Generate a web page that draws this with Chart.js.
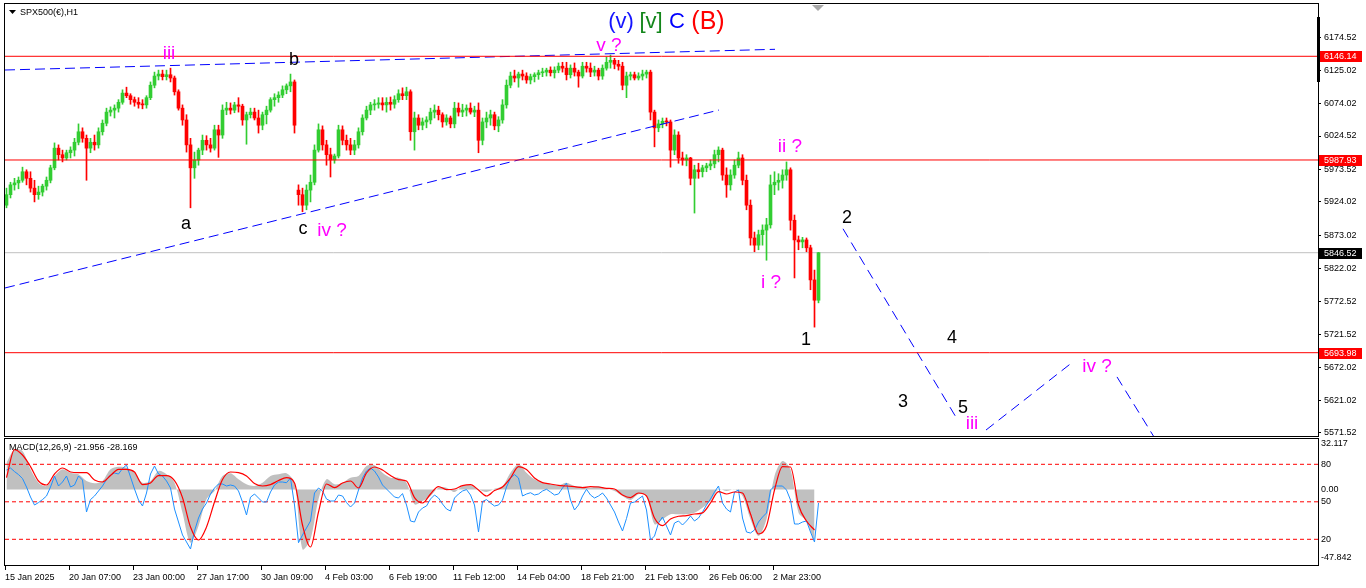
<!DOCTYPE html>
<html><head><meta charset="utf-8">
<script src="https://cdn.jsdelivr.net/npm/chart.js@4.4.1/dist/chart.umd.min.js"></script>
<style>
html,body{margin:0;padding:0;background:#fff;overflow:hidden;}
#wrap{position:relative;width:1366px;height:588px;background:#fff;}
canvas{position:absolute;left:0;}
</style></head><body>
<div id="wrap">
<canvas id="main" width="1366" height="438" style="top:0;width:1366px;height:438px"></canvas>
<canvas id="osc" width="1366" height="150" style="top:438px;width:1366px;height:150px"></canvas>
</div>
<script>
// ---------- DATA (4-hour candles, 15 Jan – 4 Mar 2025) ----------
const symbolTitle = 'SPX500(€),H1';
const hoursPerCandle = 4;
const opens = [
5919,5935,5950,5953,5957,5970,5960,5945,5935,5939,
5948,5957,5976,6006,5996,5991,5999,6003,6015,6031,
6021,6006,6015,6011,6031,6044,6061,6064,6067,6076,
6090,6086,6080,6076,6073,6072,6083,6102,6116,6119,
6115,6118,6113,6092,6067,6049,6011,5976,5988,6003,
6018,6011,6006,6034,6026,6064,6067,6064,6072,6070,
6049,6057,6061,6052,6041,6057,6064,6080,6083,6087,
6095,6101,6107,5942,5935,5919,5942,5954,6003,6034,
6011,5996,5988,5994,6034,6018,6011,6003,6011,6031,
6052,6064,6072,6073,6075,6072,6076,6073,6080,6089,
6086,6092,6031,6052,6041,6046,6049,6061,6064,6057,
6046,6052,6043,6067,6061,6064,6067,6061,6064,6018,
6046,6052,6057,6040,6049,6072,6102,6116,6113,6119,
6116,6110,6115,6118,6121,6122,6125,6121,6125,6131,
6128,6118,6128,6122,6116,6131,6128,6122,6125,6116,
6128,6137,6140,6134,6131,6102,6116,6118,6113,6116,
6119,6122,6061,6037,6043,6047,6046,6003,6026,5991,
5988,5991,5960,5973,5970,5976,5979,5982,5996,6003,
5965,5950,5965,5980,5991,5957,5919,5869,5858,5874,
5881,5889,5950,5954,5957,5965,5973,5896,5866,5863,
5866,5854,5805,5774];
const highs = [
5945,5954,5960,5962,5977,5973,5970,5957,5948,5951,
5962,5980,6014,6011,6003,6003,6008,6021,6043,6037,
6026,6021,6026,6037,6049,6067,6069,6072,6080,6095,
6099,6089,6084,6083,6080,6086,6107,6122,6125,6125,
6125,6128,6116,6095,6072,6057,6021,6000,6006,6026,
6025,6021,6041,6041,6072,6076,6075,6076,6083,6073,
6061,6067,6067,6064,6061,6070,6083,6089,6092,6101,
6104,6119,6110,5950,5945,5950,5965,6011,6043,6040,
6018,6006,5997,6041,6040,6026,6021,6018,6037,6057,
6070,6076,6080,6083,6083,6083,6084,6086,6095,6098,
6099,6095,6061,6057,6052,6054,6067,6072,6070,6060,
6057,6055,6076,6075,6073,6072,6075,6070,6075,6052,
6061,6064,6061,6054,6080,6110,6122,6125,6122,6125,
6121,6119,6121,6125,6128,6128,6130,6130,6136,6137,
6137,6133,6136,6125,6137,6137,6136,6131,6128,6133,
6145,6148,6143,6140,6137,6122,6122,6122,6121,6125,
6125,6125,6064,6049,6052,6052,6049,6034,6031,6000,
5996,5992,5980,5983,5980,5983,5988,6003,6008,6006,
5976,5973,5988,6000,5996,5965,5927,5878,5881,5889,
5899,5965,5970,5967,5973,5985,5976,5904,5872,5870,
5869,5858,5820,5847];
const lows = [
5915,5930,5942,5944,5954,5950,5939,5924,5928,5933,
5942,5953,5973,5988,5985,5988,5991,5994,6011,6015,
5957,5999,6003,6006,6026,6040,6055,6052,6061,6073,
6083,6073,6070,6067,6066,6067,6080,6098,6110,6110,
6110,6107,6087,6064,6041,6000,5915,5960,5980,5996,
6003,6000,6003,5992,6021,6057,6058,6060,6061,6041,
6012,6052,6049,6029,6034,6043,6061,6070,6076,6083,
6089,6092,6029,5919,5909,5912,5924,5950,6000,6003,
5980,5962,5983,5991,6011,6003,5996,5996,6006,6026,
6049,6057,6064,6067,6064,6061,6064,6067,6076,6080,
6080,6018,6003,6034,6034,6037,6043,6052,6049,6038,
6041,6037,6037,6055,6054,6055,6058,6054,5999,6011,
6037,6041,6034,6031,6044,6067,6098,6107,6099,6110,
6105,6104,6107,6111,6115,6116,6116,6113,6121,6122,
6110,6113,6116,6099,6113,6122,6115,6116,6110,6111,
6125,6128,6127,6125,6095,6083,6110,6110,6110,6110,
6113,6049,6008,6031,6037,6040,5977,5996,5983,5980,
5979,5950,5907,5960,5962,5970,5973,5976,5985,5957,
5931,5942,5960,5976,5950,5912,5858,5848,5851,5858,
5835,5884,5935,5942,5945,5957,5881,5808,5851,5854,
5848,5790,5733,5770];
const closes = [
5935,5950,5953,5957,5970,5960,5945,5935,5939,5948,
5957,5976,6006,5996,5991,5999,6003,6015,6031,6021,
6006,6015,6011,6031,6044,6061,6064,6067,6076,6090,
6086,6080,6076,6073,6072,6083,6102,6116,6119,6115,
6118,6113,6092,6067,6049,6011,5976,5988,6003,6018,
6011,6006,6034,6026,6064,6067,6064,6072,6070,6049,
6057,6061,6052,6041,6057,6064,6080,6083,6087,6095,
6101,6107,6041,5935,5919,5942,5954,6003,6034,6011,
5996,5988,5994,6034,6018,6011,6003,6011,6031,6052,
6064,6072,6073,6075,6072,6076,6073,6080,6089,6086,
6092,6031,6052,6041,6046,6049,6061,6064,6057,6046,
6052,6043,6067,6061,6064,6067,6061,6064,6018,6046,
6052,6057,6040,6049,6072,6102,6116,6113,6119,6116,
6110,6115,6118,6121,6122,6125,6121,6125,6131,6128,
6118,6128,6122,6116,6131,6128,6122,6125,6116,6128,
6137,6140,6134,6131,6102,6116,6118,6113,6116,6119,
6122,6061,6037,6043,6047,6046,6003,6026,5991,5988,
5991,5960,5973,5970,5976,5979,5982,5996,6003,5965,
5950,5965,5980,5991,5957,5919,5869,5858,5874,5881,
5889,5950,5954,5957,5965,5973,5896,5866,5863,5866,
5854,5805,5774,5846.52];

// oscillator (blue) – one value per candle
const oscBlue = [
13.6,15.0,12.5,10.4,7.6,1.7,-5.3,-10.9,-9.2,-7.1,
-4.6,1.7,9.4,2.4,5.2,9.4,1.7,3.1,9.4,6.6,
-15.8,-7.1,-4.6,-1.1,2.4,6.9,10.1,11.5,10.8,14.6,
17.1,8.7,0.3,-7.4,-11.6,-2.5,10.8,16.4,10.8,9.4,
5.9,1.0,-13.7,-22.8,-31.9,-36.8,-41.7,-29.1,-20.0,-13.7,
-9.5,-3.2,1.0,3.8,3.8,2.4,3.1,2.4,-1.1,-8.8,
-17.9,-5.4,-3.2,-6.0,-8.8,-8.8,-1.8,3.1,5.2,5.2,
4.7,8.0,-10.9,-37.3,-31.9,-27.0,-22.1,-2.5,1.0,-1.1,
-6.7,-8.1,-8.1,-3.9,-4.6,-9.2,-12.3,-9.5,-0.4,8.0,
12.9,15.0,12.9,8.7,3.1,0.3,-2.5,-5.3,-6.0,-2.9,
-10.9,-22.1,-22.8,-15.8,-13.0,-11.6,-6.7,-3.9,-6.0,-10.2,
-13.7,-15.1,-6.0,-3.2,-1.1,-0.1,-3.9,-10.9,-29.8,-8.5,
-7.1,-9.5,-11.6,-10.9,-7.4,1.7,8.0,10.4,8.0,-4.6,
-3.2,-2.3,-3.9,-3.2,-1.1,0.1,-1.8,-3.9,-3.2,1.0,
4.5,-7.4,-14.4,-10.9,-4.6,0.1,-3.9,-6.0,-4.6,-2.5,
-6.0,-10.9,-15.8,-22.8,-29.1,-20.3,-9.5,-8.8,-6.7,-4.6,
-14.4,-35.4,-32.6,-23.5,-19.3,-25.6,-31.9,-23.5,-22.1,-24.9,
-22.1,-18.6,-22.1,-20.0,-15.8,-10.9,-6.7,-1.8,2.4,-9.5,
-13.7,-15.8,-1.8,-0.4,-20.0,-29.8,-30.5,-28.4,-22.8,-19.3,
-16.5,-0.4,2.4,2.4,2.4,-0.4,-7.4,-24.2,-24.2,-22.8,
-22.1,-29.8,-36.8,-9.5];
// MACD main (grey histogram) and signal (red) – one value per two candles
const macdMain = [
18.7,28.1,26.9,14.1,4.7,2.4,9.4,14.1,11.7,10.6,
5.9,4.3,5.9,14.1,15.9,15.2,11.7,4.7,5.9,12.9,
10.6,4.7,-16.3,-37.3,-25.6,-6.9,-1.1,9.4,11.3,7.1,
3.6,2.4,4.7,9.4,10.6,11.3,4.7,-41.9,-34.9,-6.9,
7.1,3.6,4.7,8.2,9.4,16.4,16.9,11.7,8.2,8.2,
4.7,-10.4,-8.1,-4.6,1.2,1.2,-1.8,2.4,2.9,0.1,
-1.8,0.5,2.4,11.7,17.6,11.7,7.1,4.7,3.6,2.9,
4.7,2.4,1.9,1.2,2.4,0.5,-1.1,-4.6,-7.4,-3.4,
-4.6,-24.4,-20.9,-17.4,-17.4,-17.4,-16.3,-12.8,-8.1,0.1,
-1.1,0.1,-4.6,-20.9,-32.6,-20.9,9.4,19.9,14.1,-16.3,
-22.1,-37.3];
const macdSignal = [
8.3,27.9,24.1,16.0,5.9,3.1,10.8,15.0,12.2,11.7,
11.7,6.6,5.2,9.7,14.1,14.1,12.2,3.4,4.5,9.7,
9.7,6.2,-5.7,-26.3,-35.4,-26.3,-8.8,6.9,12.2,11.8,
9.4,4.1,2.4,3.4,6.2,8.2,4.5,-24.9,-40.3,-15.8,
3.8,1.2,4.5,5.9,1.0,11.5,15.7,13.6,9.7,6.9,
5.9,-5.7,-9.5,-3.2,2.0,-0.1,0.3,2.7,3.4,-0.4,
-4.6,-0.8,1.7,8.0,16.0,13.9,8.0,4.8,3.8,2.8,
2.4,1.9,1.3,2.0,1.7,0.8,0.3,-3.9,-5.7,-2.5,
-4.6,-20.0,-25.3,-20.7,-18.8,-18.3,-17.2,-16.4,-9.5,-1.5,
-3.2,-1.8,-2.5,-17.2,-31.2,-25.6,-0.4,16.0,15.7,-10.9,
-22.1,-28.4];
const macdTitle = 'MACD(12,26,9) -21.956 -28.169';
const oscLevels = [80, 50, 20];
const macdTickLabels = ['32.117', '0.00', '-47.842'];

// axes
const priceTickLabels = ['6174.52','6125.02','6074.02','6024.52','5973.52','5924.02','5873.02','5822.02','5772.52','5721.52','5672.02','5621.02','5571.52'];
const timeTickBars = [0,64,128,192,256,320,384,448,512,576,640,704,768];
const timeTickLabels = ['15 Jan 2025','20 Jan 07:00','23 Jan 00:00','27 Jan 17:00','30 Jan 09:00','4 Feb 03:00','6 Feb 19:00','11 Feb 12:00','14 Feb 04:00','18 Feb 21:00','21 Feb 13:00','26 Feb 06:00','2 Mar 23:00'];

// horizontal levels
const redLevels = [6146.14, 5987.93, 5693.98];
const lastPrice = 5846.52;

// trend lines (bar index, price)
const upperTrendBars = [0, 770],   upperTrendPrices = [6125.2, 6156.8];
const lowerTrendBars = [0, 714],   lowerTrendPrices = [5792.7, 6064.2];
// projected wave path (bar index, price); null splits segments
const projBars   = [838, 952, null, 981, 1068, null, 1112, 1150];
const projPrices = [5883, 5593, null, 5576, 5680, null, 5657, 5563];

// wave labels (text, bar index, price, colour)
const waveLabels = [
  ['iii', 164, 6150, 'mag'], ['b', 289, 6140.5, 'blk'], ['v ?', 604, 6162, 'mag'],
  ['a', 181, 5890, 'blk'], ['c', 298, 5883, 'blk'], ['iv ?', 327, 5880, 'mag'],
  ['ii ?', 785, 6008, 'mag'], ['i ?', 766, 5800, 'mag'], ['1', 801, 5713, 'blk'],
  ['2', 842, 5899, 'blk'], ['3', 898, 5619, 'blk'], ['4', 947, 5716, 'blk'],
  ['5', 958, 5610, 'blk'], ['iii', 967, 5585, 'mag'], ['iv ?', 1092, 5672, 'mag']
];
const degreeLabels = [['(v)', 616, 6198, '#1414ff', 22], ['[v]', 646, 6198, '#13861a', 22], ['C', 672, 6198, '#0000ff', 22], ['(B)', 703, 6198, '#ff0000', 25]];

// ---------- CHART ----------
const FONT = "'Liberation Sans', Arial, sans-serif";
Chart.defaults.font.family = FONT;
Chart.defaults.font.size = 9;
Chart.defaults.color = '#000';

const X_MIN = 0, X_MAX = 1313;
const candleX = closes.map((c, i) => i * hoursPerCandle + 1.5);
const candleCol = closes.map((c, i) => c >= opens[i] ? '#32cd32' : '#ff0000');
const wickData = closes.map((c, i) => ({x: candleX[i], y: [lows[i], highs[i]]}));
const bodyData = closes.map((c, i) => ({x: candleX[i], y: [opens[i], c]}));
const pts = (xs, ys) => xs.map((x, i) => x === null ? {x: null, y: null} : ({x, y: ys[i]}));
const hLine = v => [{x: X_MIN, y: v}, {x: X_MAX, y: v}];
const lineDs = (data, color, extra) => Object.assign({type: 'line', data, borderColor: color, borderWidth: 1, pointRadius: 0, fill: false, tension: 0, order: 0}, extra || {});
const noPad = s => { s.paddingTop = 0; s.paddingBottom = 0; s.paddingLeft = 0; s.paddingRight = 0; };

const mainDecor = {
  id: 'mainDecor',
  afterDatasetsDraw(chart) {
    const {ctx, scales: {x, y}} = chart;
    ctx.save();
    ctx.textAlign = 'center'; ctx.textBaseline = 'middle';
    waveLabels.forEach(([t, b, p, c]) => {
      ctx.fillStyle = c === 'mag' ? '#ff00ff' : '#000';
      ctx.font = (c === 'mag' ? '19px ' : '18px ') + FONT;
      ctx.fillText(t, x.getPixelForValue(b), y.getPixelForValue(p));
    });
    degreeLabels.forEach(([t, b, p, c, s]) => {
      ctx.fillStyle = c; ctx.font = s + 'px ' + FONT;
      ctx.fillText(t, x.getPixelForValue(b), y.getPixelForValue(p));
    });
    ctx.restore();
  },
  afterDraw(chart) {
    const {ctx, chartArea: a, scales: {y}} = chart;
    ctx.save();
    ctx.strokeStyle = '#000'; ctx.lineWidth = 1;
    ctx.strokeRect(a.left - 0.5, a.top - 0.5, a.right - a.left + 1, a.bottom - a.top + 1);
    // price labels on axis
    ctx.font = '9px ' + FONT; ctx.textBaseline = 'middle'; ctx.textAlign = 'left';
    const box = (v, bg) => {
      const py = Math.round(y.getPixelForValue(v));
      ctx.fillStyle = bg; ctx.fillRect(a.right + 1, py - 5, 43, 11);
      ctx.fillStyle = '#fff'; ctx.fillText(v.toFixed(2), a.right + 6, py + 0.5);
    };
    redLevels.forEach(v => box(v, '#ff0000'));
    box(lastPrice, '#000');
    // scroll marker on the price scale
    ctx.fillStyle = '#000'; ctx.fillRect(a.right - 1, 17, 3, 65);
    // chart shift triangle
    ctx.fillStyle = '#a8a8a8';
    ctx.beginPath(); ctx.moveTo(812, 5); ctx.lineTo(824, 5); ctx.lineTo(818, 11); ctx.closePath(); ctx.fill();
    // title
    ctx.fillStyle = '#000';
    ctx.beginPath(); ctx.moveTo(9, 10); ctx.lineTo(16, 10); ctx.lineTo(12.5, 14); ctx.closePath(); ctx.fill();
    ctx.font = '9px ' + FONT; ctx.textAlign = 'left';
    ctx.fillText(symbolTitle, 20, 12.5);
    ctx.restore();
  }
};

new Chart(document.getElementById('main'), {
  type: 'bar',
  data: {
    datasets: [
      ...redLevels.map(v => lineDs(hLine(v), '#ff0000')),
      lineDs(hLine(lastPrice), '#c0c0c0', {order: 3}),
      lineDs(pts(upperTrendBars, upperTrendPrices), '#0000ff', {borderDash: [10, 5]}),
      lineDs(pts(lowerTrendBars, lowerTrendPrices), '#0000ff', {borderDash: [10, 5]}),
      lineDs(pts(projBars, projPrices), '#0000ff', {borderDash: [10, 6], spanGaps: false}),
      {type: 'bar', data: wickData, backgroundColor: candleCol, barThickness: 1, grouped: false, borderWidth: 0, order: 2},
      {type: 'bar', data: bodyData, backgroundColor: candleCol, barThickness: 3, grouped: false, borderWidth: 0, minBarLength: 1, order: 1}
    ]
  },
  options: {
    responsive: false, animation: false, devicePixelRatio: 1,
    layout: {padding: {left: 5, top: 4, right: 0, bottom: 2}},
    plugins: {legend: {display: false}, tooltip: {enabled: false}},
    scales: {
      x: {type: 'linear', min: X_MIN, max: X_MAX, display: false, offset: false},
      y: {
        type: 'linear', position: 'right', min: 5566.9, max: 6225.9,
        afterFit(s) { s.width = 48; noPad(s); },
        afterBuildTicks(s) { s.ticks = priceTickLabels.map(v => ({value: Number(v)})); },
        ticks: {callback: (v, i) => priceTickLabels[i], padding: 3, color: '#000', font: {size: 9}},
        grid: {drawOnChartArea: false, drawTicks: true, tickLength: 3, color: '#000'},
        border: {display: true, color: '#000'}
      }
    }
  },
  plugins: [mainDecor]
});

// ---------- MACD PANEL ----------
const macdX = macdMain.map((v, j) => candleX[j * 2]);
const oscDecor = {
  id: 'oscDecor',
  afterDraw(chart) {
    const {ctx, chartArea: a, scales: {y2}} = chart;
    ctx.save();
    ctx.strokeStyle = '#000'; ctx.lineWidth = 1;
    ctx.strokeRect(a.left - 0.5, a.top - 0.5, a.right - a.left + 1, a.bottom - a.top + 1);
    ctx.font = '9px ' + FONT; ctx.fillStyle = '#000'; ctx.textBaseline = 'middle'; ctx.textAlign = 'left';
    ctx.fillText(macdTitle, 9, 9.5);
    oscLevels.forEach(v => ctx.fillText(String(v), a.right + 3, y2.getPixelForValue(v)));
    ctx.restore();
  }
};
new Chart(document.getElementById('osc'), {
  type: 'line',
  data: {
    datasets: [
      {data: macdMain.map((v, j) => ({x: macdX[j], y: v})), fill: 'origin', backgroundColor: '#c0c0c0', borderWidth: 0, borderColor: 'rgba(0,0,0,0)', pointRadius: 0, tension: 0.3, yAxisID: 'y', order: 4},
      ...oscLevels.map(v => ({data: hLine(v), borderColor: '#ff0000', borderWidth: 1, borderDash: [4, 3], pointRadius: 0, fill: false, yAxisID: 'y2', order: 3})),
      {data: oscBlue.map((v, k) => ({x: candleX[k], y: v})), borderColor: '#1e90ff', borderWidth: 1, pointRadius: 0, fill: false, tension: 0, yAxisID: 'y', order: 2},
      {data: macdSignal.map((v, j) => ({x: macdX[j], y: v})), borderColor: '#ff0000', borderWidth: 1.2, pointRadius: 0, fill: false, cubicInterpolationMode: 'monotone', yAxisID: 'y', order: 1}
    ]
  },
  options: {
    responsive: false, animation: false, devicePixelRatio: 1,
    layout: {padding: {left: 5, top: 1, right: 0, bottom: 0}},
    plugins: {legend: {display: false}, tooltip: {enabled: false}},
    scales: {
      x: {
        type: 'linear', min: X_MIN, max: X_MAX, position: 'bottom', offset: false,
        afterFit(s) { s.height = 23; noPad(s); },
        afterBuildTicks(s) { s.ticks = timeTickBars.map(v => ({value: v})); },
        ticks: {callback: (v, i) => timeTickLabels[i], align: 'start', maxRotation: 0, autoSkip: false, padding: 2, color: '#000', font: {size: 9}},
        grid: {drawOnChartArea: false, drawTicks: true, tickLength: 5, color: '#000'},
        border: {display: true, color: '#000'}
      },
      y: {
        type: 'linear', position: 'right', min: -52.9, max: 35.3,
        afterFit(s) { s.width = 48; noPad(s); },
        afterBuildTicks(s) { s.ticks = macdTickLabels.map(v => ({value: Number(v)})); },
        ticks: {callback: (v, i) => macdTickLabels[i], padding: 3, color: '#000', font: {size: 9}},
        grid: {drawOnChartArea: false, drawTicks: false},
        border: {display: true, color: '#000'}
      },
      y2: {type: 'linear', display: false, min: -0.56, max: 100.24}
    }
  },
  plugins: [oscDecor]
});
</script>
</body></html>
